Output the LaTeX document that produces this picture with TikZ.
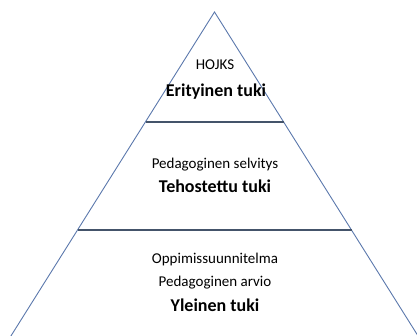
\documentclass[tikz,border=0pt]{standalone}
\usepackage{fontspec}
\setmainfont{Carlito}
\begin{document}
\begin{tikzpicture}[x=1pt,y=-1pt,
  side/.style={draw=sidecol,line width=0.9pt},
  tier/.style={draw=tiercol,line width=1.4pt},
  small/.style={font=\fontsize{15}{18}\selectfont,anchor=base,inner sep=0pt},
  big/.style={font=\bfseries\fontsize{18}{21}\selectfont,anchor=base,inner sep=0pt}]
\definecolor{sidecol}{HTML}{5B78AC}
\definecolor{tiercol}{HTML}{44546A}
\useasboundingbox (0,0) rectangle (417,336);
\clip (0,0) rectangle (417,336);
% pyramid outline
\coordinate (apex) at (214.5,12);
\coordinate (bl) at (4,347);
\coordinate (br) at (425,347);
\draw[side] (bl) -- (apex) -- (br);
% tier separators
\coordinate (t1l) at (145.5,122);
\coordinate (t1r) at (283.5,122);
\coordinate (t2l) at (77.5,230);
\coordinate (t2r) at (351.5,230);
\draw[tier] (t1l) -- (t1r);
\draw[tier] (t2l) -- (t2r);
% labels
\node[small] (hojks) at (215,70) {HOJKS};
\node[big] (erit) at (216,97) {Erityinen tuki};
\node[small] (pselv) at (215,169) {Pedagoginen selvitys};
\node[big] (tehos) at (215,193) {Tehostettu tuki};
\node[small] (oppim) at (215,264) {Oppimissuunnitelma};
\node[small] (parvio) at (215,287) {Pedagoginen arvio};
\node[big] (yleinen) at (215,311) {Yleinen tuki};
\end{tikzpicture}
\end{document}
